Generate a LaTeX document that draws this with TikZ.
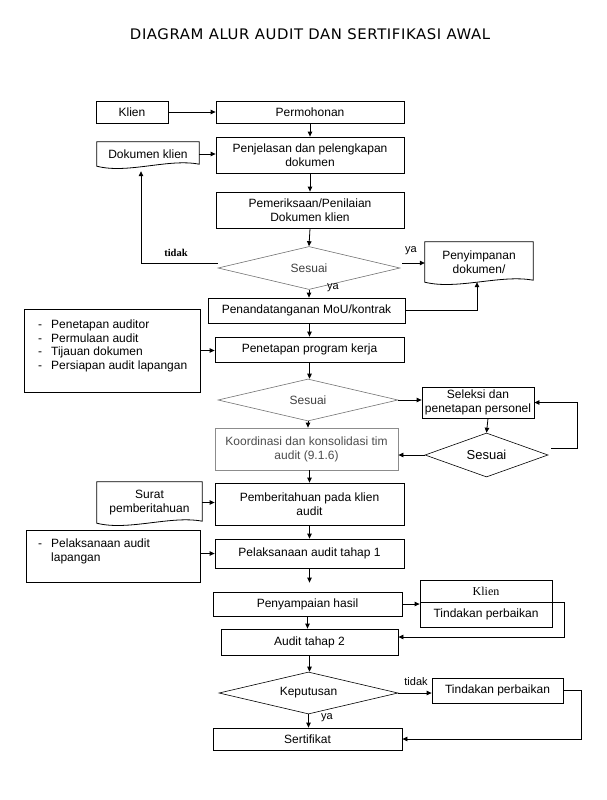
\documentclass[tikz,border=0pt]{standalone}
\usepackage{fontspec}
\setmainfont{Liberation Sans}
\newfontfamily\serifft{Liberation Serif}
\newfontfamily\titleft{DejaVu Sans}
\usetikzlibrary{shapes.geometric,arrows.meta,calc}
\newcommand\docpath[2][black]{\draw[line width=0.8pt,draw=#1] (#2.south west) -- (#2.north west) -- (#2.north east) -- ([yshift=2pt]#2.south east) .. controls ($(#2.south west)!0.7!(#2.south east)+(0,-8)$) and ($(#2.south west)!0.3!(#2.south east)+(0,8)$) .. (#2.south west) -- cycle;}
\begin{document}
\begin{tikzpicture}[x=1pt,y=-1pt,
  box/.style={draw, line width=0.8pt, inner sep=0pt, align=center, font=\fontsize{12}{14}\selectfont},
  dia/.style={diamond, aspect=4, draw=black!55, line width=0.6pt, inner sep=0pt, font=\fontsize{12}{14}\selectfont, text=black!75},
  docbox/.style={inner sep=0pt, align=center, font=\fontsize{12}{14}\selectfont},
  arr/.style={line width=0.8pt, -{Triangle[length=5pt,width=4.5pt]}},
  lbl/.style={inner sep=0pt, font=\fontsize{11}{13}\selectfont}
]
\useasboundingbox (0,0) rectangle (606,800);

\node[inner sep=0pt] (title) at (310,34.5) {\resizebox{360pt}{10.8pt}{\titleft\addfontfeatures{LetterSpace=4}DIAGRAM ALUR AUDIT DAN SERTIFIKASI AWAL}};

% row 1
\node[box, minimum width=72pt, minimum height=22pt] (klien) at (132,112) {Klien};
\node[box, minimum width=188pt, minimum height=22pt] (perm) at (310,112) {Permohonan};
\node[box, minimum width=188pt, minimum height=36pt] (penj) at (310,155) {Penjelasan dan pelengkapan\\dokumen};
\node[docbox, minimum width=102pt, minimum height=24pt] (dokklien) at (148,154) {Dokumen klien};
\docpath{dokklien}
\node[box, minimum width=188pt, minimum height=36pt] (pemer) at (310,210) {Pemeriksaan/Penilaian\\Dokumen klien};
\node[dia, minimum width=182pt, minimum height=43pt] (dia1) at (309,268) {Sesuai};
\node[docbox, minimum width=108pt, minimum height=40pt] (penyimp) at (479,262) {Penyimpanan\\dokumen/};
\docpath{penyimp}
\node[box, minimum width=197pt, minimum height=25pt] (mou) at (306.5,310.5) {Penandatanganan MoU/kontrak};

% list box
\node[box, minimum width=176pt, minimum height=83pt] (list) at (112,350.5) {};
\node[anchor=north west, inner sep=0pt, font=\fontsize{12}{13.7}\selectfont] (listtxt) at (38,318.7)
  {\begin{tabular}{@{}l@{\hspace{9pt}}l@{}}-&Penetapan auditor\\-&Permulaan audit\\-&Tijauan dokumen\\-&Persiapan audit lapangan\end{tabular}};
\node[box, minimum width=189pt, minimum height=25pt] (prog) at (309.5,349.5) {Penetapan program kerja};
\node[dia, minimum width=180pt, minimum height=42pt] (dia2) at (308,400) {Sesuai};
\node[box, minimum width=112pt, minimum height=31pt] (sel) at (478,402.5) {Seleksi dan\\penetapan personel};
\node[dia, draw=black, text=black, font=\fontsize{13}{15}\selectfont, minimum width=123pt, minimum height=44pt] (dia3) at (486.5,455) {Sesuai};
\node[box, draw=black!45, text=black!70, minimum width=183pt, minimum height=42pt] (koord) at (306.5,449) {Koordinasi dan konsolidasi tim\\audit (9.1.6)};

% notification
\node[docbox, minimum width=105pt, minimum height=41pt] (surat) at (149.5,502.5) {Surat\\pemberitahuan};
\docpath{surat}
\node[box, minimum width=189pt, minimum height=42pt] (pember) at (309.5,504) {Pemberitahuan pada klien\\audit};
\node[box, minimum width=174pt, minimum height=52pt] (left2) at (113,556) {};
\node[anchor=north west, inner sep=0pt, font=\fontsize{12}{13.7}\selectfont] (left2txt) at (38,537.7)
  {\begin{tabular}{@{}l@{\hspace{9pt}}l@{}}-&Pelaksanaan audit\\&lapangan\end{tabular}};
\node[box, minimum width=189pt, minimum height=29pt] (pelaks1) at (309.5,553.5) {Pelaksanaan audit tahap 1};

% bottom part
\node[box, minimum width=189pt, minimum height=24pt] (peny) at (307.5,604) {Penyampaian hasil};
\node[box, minimum width=132pt, minimum height=22pt, font=\serifft\fontsize{12}{14}\selectfont] (kliennode) at (486,591) {Klien};
\node[box, minimum width=132pt, minimum height=25pt] (tind1) at (486,614.5) {Tindakan perbaikan};
\node[box, minimum width=177pt, minimum height=26pt] (audit2) at (309.5,642) {Audit tahap 2};
\node[dia, draw=black, text=black, minimum width=179pt, minimum height=42pt] (keput) at (308.5,693) {Keputusan};
\node[box, minimum width=131pt, minimum height=25pt] (tind2) at (497.5,690.5) {Tindakan perbaikan};
\node[box, minimum width=189pt, minimum height=22pt] (sert) at (307.5,739) {Sertifikat};

% labels
\node[inner sep=0pt, font=\serifft\bfseries\fontsize{10.5}{12}\selectfont] (tidak1) at (176,253) {tidak};
\node[lbl] (ya1) at (411,251) {ya};
\node[lbl] (ya2) at (333,288) {ya};
\node[lbl] (tidak2) at (416,682) {tidak};
\node[lbl] (ya3) at (327,718) {ya};

% connectors
\draw[arr] (klien.east) -- (perm.west);
\draw[arr] (perm.south) -- (penj.north);
\draw[arr] (dokklien.east) -- (dokklien.east -| penj.west);
\draw[arr] (penj.south) -- (pemer.north);
\draw[arr] (pemer.south) -- (dia1.north);
\draw[arr] ([yshift=5pt]dia1.west) -| ([xshift=-7pt,yshift=-5pt]dokklien.south);
\coordinate (d1e) at ([xshift=2pt,yshift=5pt]dia1.east);
\draw[arr] (d1e) -- (d1e -| penyimp.west);
\draw[arr] (dia1.south) -- (dia1.south |- mou.north);
\draw[arr] (mou.east) -| ([xshift=-2pt]penyimp.south);
\draw[arr] (mou.south -| prog.north) -- (prog.north);
\draw[arr] (list.east) -- (list.east -| prog.west);
\draw[arr] (prog.south) -- (prog.south |- dia2.north);
\draw[arr] (dia2.east) -- (dia2.east -| sel.west);
\draw[arr] (dia2.south) -- (dia2.south |- koord.north);
\draw[arr] ([xshift=10pt]sel.south) -- (dia3.north);
\coordinate (d3e) at ([xshift=3pt,yshift=7pt]dia3.east);
\draw[arr] (d3e) -- ++(26,0) |- (sel.east);
\draw[arr] (dia3.west) -- (dia3.west -| koord.east);
\draw[arr] (pember.north |- koord.south) -- (pember.north);
\draw[arr] (surat.east) -- (surat.east -| pember.west);
\draw[arr] (pember.south) -- (pelaks1.north);
\draw[arr] (left2.east |- pelaks1.west) -- (pelaks1.west);
\coordinate (p1end) at ([yshift=9pt]peny.north);
\draw[arr] (pelaks1.south) -- (pelaks1.south |- p1end);
\draw[arr] (peny.east) -- (peny.east -| tind1.west);
\draw[arr] (peny.south) -- (peny.south |- audit2.north);
\draw[arr] (kliennode.south east) -- ++(12,0) |- ([yshift=5pt]audit2.east);
\draw[arr] (audit2.south) -- (audit2.south |- keput.north);
\draw[arr] (keput.east) -- (keput.east -| tind2.west);
\draw[arr] (tind2.east) -- ++(18,0) |- (sert.east);
\draw[arr] (keput.south) -- (keput.south |- sert.north);
\end{tikzpicture}
\end{document}
